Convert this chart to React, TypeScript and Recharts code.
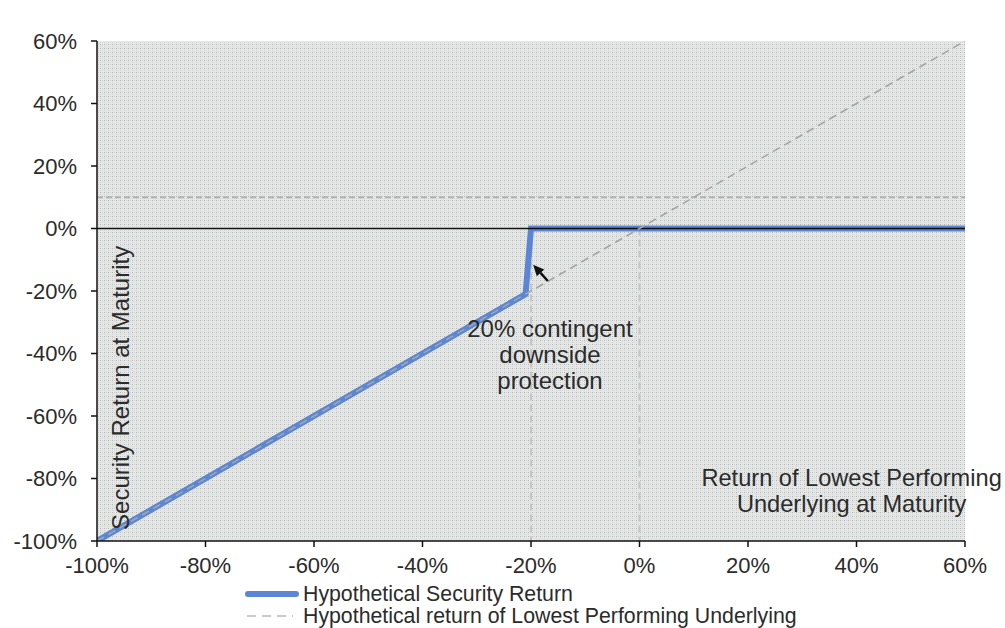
import React from "react";
import { LineChart, Line, XAxis, YAxis, CartesianGrid, ReferenceLine, ReferenceDot } from "recharts";

// underlying return at maturity (x) and the payoffs at those points
const underlyingPoints = [-100, -21, -20, 0, 60];
const securityReturn = [-100, -21, 0, 0, 0];
const underlyingReturn = [-100, -21, -20, 0, 60];

const xTicks = [-100, -80, -60, -40, -20, 0, 20, 40, 60];
const yTicks = [-100, -80, -60, -40, -20, 0, 20, 40, 60];

const barrierLevel = -20;
const couponLevel = 10;

const annotationLines = ["20% contingent", "downside", "protection"];
const xTitleLines = ["Return of Lowest Performing", "Underlying at Maturity"];
const yTitle = "Security Return at Maturity";

const seriesNames = ["Hypothetical Security Return", "Hypothetical return of Lowest Performing Underlying"];

const data = underlyingPoints.map((x, i) => ({
  x,
  security: securityReturn[i],
  underlying: underlyingReturn[i],
}));

const FONT = "'Liberation Sans', Arial, sans-serif";
const TEXT = "#2b2b2b";
const BLUE = "#5b86d6";

const pct = (v: number) => `${v}%`;

// black arrow pointing at the jump
const Arrow = (props: any) => {
  const { x1, y1, x2, y2 } = props;
  const ang = Math.atan2(y2 - y1, x2 - x1);
  const len = 11;
  const w = 5;
  const bx = x2 - len * Math.cos(ang);
  const by = y2 - len * Math.sin(ang);
  const px = -Math.sin(ang) * w;
  const py = Math.cos(ang) * w;
  return (
    <g>
      <line x1={x1} y1={y1} x2={bx} y2={by} stroke="#111" strokeWidth={2.5} />
      <polygon points={`${x2},${y2} ${bx + px},${by + py} ${bx - px},${by - py}`} fill="#111" />
    </g>
  );
};

const MultiLineLabel = (lines: string[], size: number, gap: number) => (props: any) => {
  const { viewBox } = props;
  const cx = viewBox.cx ?? viewBox.x;
  const cy = viewBox.cy ?? viewBox.y;
  return (
    <text x={cx} y={cy} textAnchor="middle" fontSize={size} fontFamily={FONT} fill={TEXT}>
      {lines.map((l, i) => (
        <tspan key={i} x={cx} dy={i === 0 ? 0 : gap}>
          {l}
        </tspan>
      ))}
    </text>
  );
};

const VerticalTitle = (props: any) => {
  const { viewBox } = props;
  const cx = viewBox.cx ?? viewBox.x;
  const cy = viewBox.cy ?? viewBox.y;
  return (
    <text
      x={cx}
      y={cy}
      transform={`rotate(-90 ${cx} ${cy})`}
      textAnchor="middle"
      dominantBaseline="central"
      fontSize={24}
      fontFamily={FONT}
      fill={TEXT}
    >
      {yTitle}
    </text>
  );
};

export default function App() {
  return (
    <div style={{ position: "absolute", left: 0, top: 0, width: 1005, height: 628, background: "#fff" }}>
      <svg width={0} height={0} style={{ position: "absolute" }}>
        <defs>
          <pattern id="dots" width={4} height={4} patternUnits="userSpaceOnUse">
            <rect width={4} height={4} fill="#e6e8e7" />
            <rect x={0} y={0} width={1} height={1} fill="#b4b7b6" />
            <rect x={2} y={0} width={1} height={1} fill="#cfd2d1" />
            <rect x={0} y={2} width={1} height={1} fill="#cfd2d1" />
            <rect x={2} y={2} width={1} height={1} fill="#d6dfdc" />
          </pattern>
        </defs>
      </svg>
      <LineChart width={1005} height={628} data={data} margin={{ top: 41, right: 40, left: 0, bottom: 57 }}>
        <CartesianGrid fill="url(#dots)" stroke="none" horizontal={false} vertical={false} />
        <XAxis
          type="number"
          dataKey="x"
          domain={[-100, 60]}
          ticks={xTicks}
          tickFormatter={pct}
          height={30}
          tickSize={6}
          tickMargin={10}
          axisLine={{ stroke: "#111", strokeWidth: 1.5 }}
          tickLine={{ stroke: "#111", strokeWidth: 1.5 }}
          tick={{ fill: TEXT, fontSize: 22, fontFamily: FONT }}
          allowDataOverflow
        />
        <YAxis
          type="number"
          domain={[-100, 60]}
          ticks={yTicks}
          tickFormatter={pct}
          width={97}
          tickSize={6}
          tickMargin={14}
          axisLine={{ stroke: "#111", strokeWidth: 1.5 }}
          tickLine={{ stroke: "#111", strokeWidth: 1.5 }}
          tick={{ fill: TEXT, fontSize: 22, fontFamily: FONT }}
          allowDataOverflow
        />
        <ReferenceLine y={couponLevel} stroke="#b0b2b1" strokeWidth={2} strokeDasharray="6 3" />
        <ReferenceLine
          segment={[{ x: barrierLevel, y: 0 }, { x: barrierLevel, y: -100 }]}
          stroke="#c4c6c5"
          strokeWidth={2}
          strokeDasharray="7 4"
        />
        <ReferenceLine
          segment={[{ x: 0, y: 0 }, { x: 0, y: -100 }]}
          stroke="#c4c6c5"
          strokeWidth={2}
          strokeDasharray="7 4"
        />
        <Line
          dataKey="security"
          stroke={BLUE}
          strokeWidth={6}
          dot={false}
          type="linear"
          isAnimationActive={false}
        />
        <ReferenceLine y={0} stroke="#111" strokeWidth={1.5} />
        <Line
          dataKey="underlying"
          stroke="#a4a6a5"
          strokeWidth={1.6}
          strokeDasharray="8 5"
          dot={false}
          type="linear"
          isAnimationActive={false}
        />
        <ReferenceLine segment={[{ x: -16.9, y: -16.8 }, { x: -19.6, y: -11.6 }]} shape={Arrow} />
        <ReferenceDot
          x={-16.5}
          y={-34.8}
          r={0}
          fill="none"
          stroke="none"
          label={MultiLineLabel(annotationLines, 24, 26)}
        />
        <ReferenceDot
          x={39.1}
          y={-82.5}
          r={0}
          fill="none"
          stroke="none"
          label={MultiLineLabel(xTitleLines, 23.6, 26)}
        />
        <ReferenceDot x={-95.6} y={-51} r={0} fill="none" stroke="none" label={VerticalTitle} />
      </LineChart>
      <div style={{ position: "absolute", left: 245, top: 583, fontFamily: FONT, fontSize: 21.3, color: TEXT, lineHeight: "22px" }}>
        <div style={{ display: "flex", alignItems: "center", height: 22 }}>
          <svg width={54} height={10} style={{ marginRight: 4 }}>
            <line x1={3} y1={5} x2={51} y2={5} stroke={BLUE} strokeWidth={6} strokeLinecap="round" />
          </svg>
          <span>{seriesNames[0]}</span>
        </div>
        <div style={{ display: "flex", alignItems: "center", height: 22 }}>
          <svg width={54} height={10} style={{ marginRight: 4 }}>
            <line x1={2} y1={5} x2={48} y2={5} stroke="#b8bab9" strokeWidth={1.5} strokeDasharray="9 6" />
          </svg>
          <span>{seriesNames[1]}</span>
        </div>
      </div>
    </div>
  );
}
